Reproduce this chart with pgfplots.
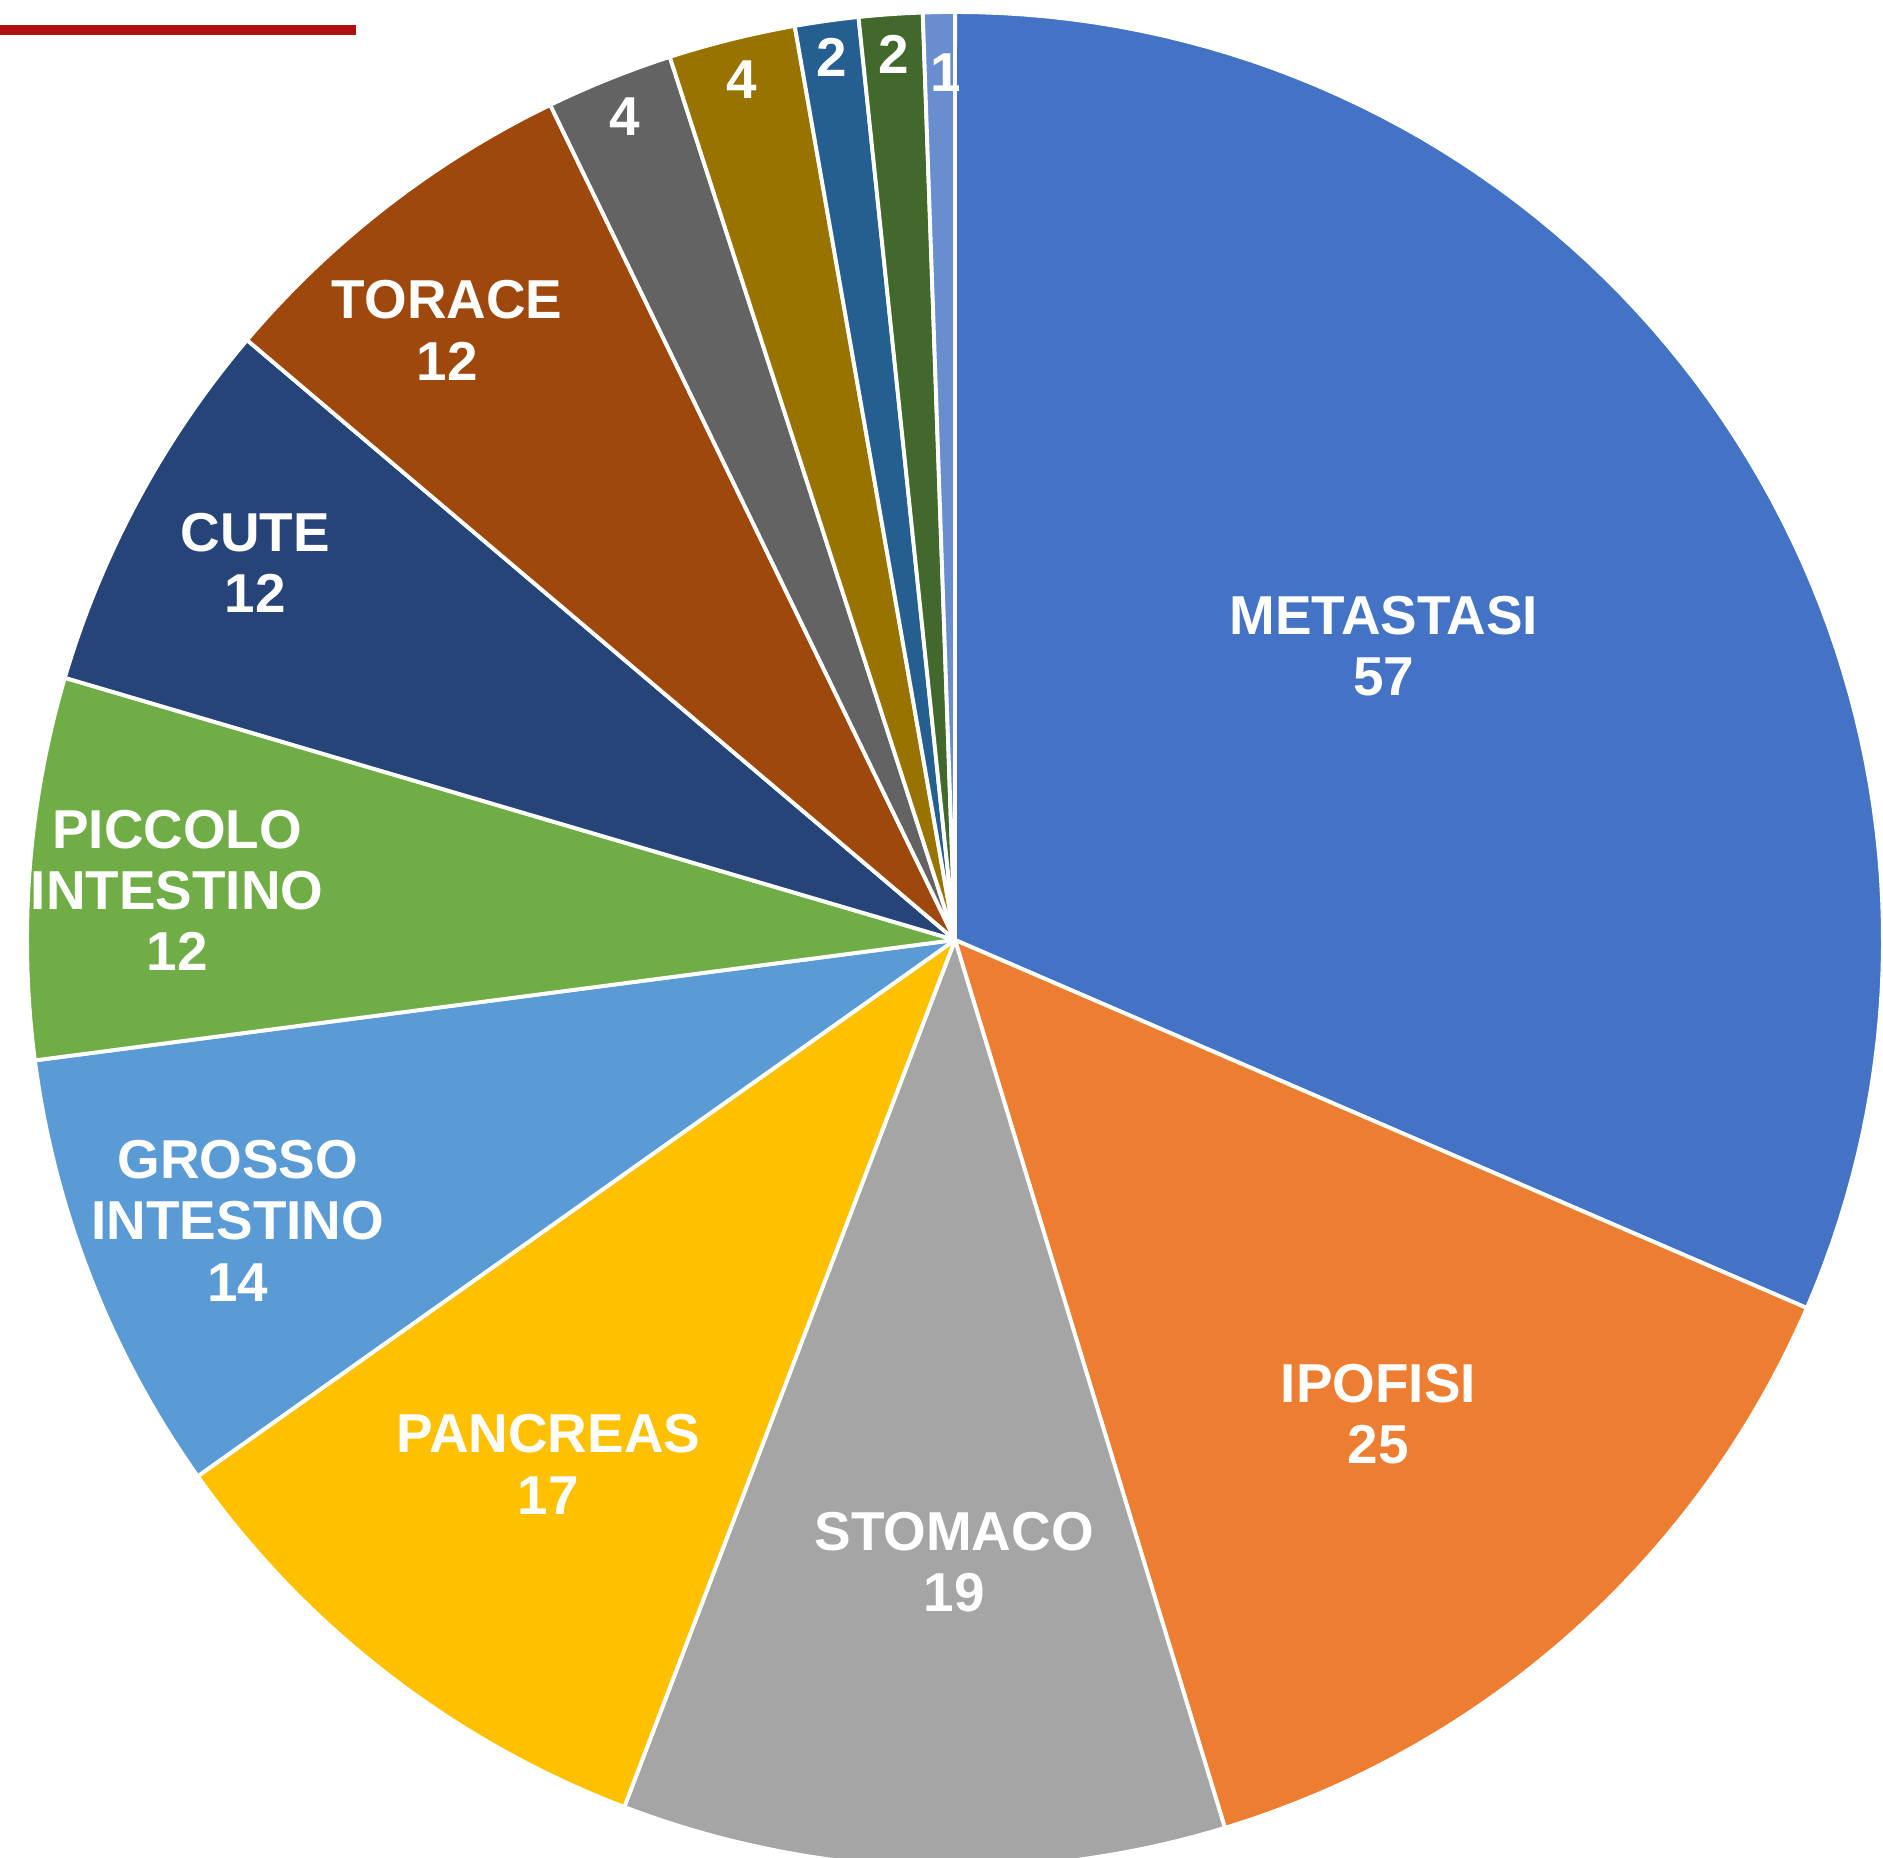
\documentclass[border=0pt]{standalone}
\usepackage{pgfplots}
\usepackage{pgfplotstable}
\pgfplotsset{compat=1.18}
\usepackage{fontspec}
\setmainfont{Liberation Sans}
\definecolor{c0}{HTML}{4472C4}
\definecolor{c1}{HTML}{ED7D31}
\definecolor{c2}{HTML}{A5A5A5}
\definecolor{c3}{HTML}{FFC000}
\definecolor{c4}{HTML}{5B9BD5}
\definecolor{c5}{HTML}{70AD47}
\definecolor{c6}{HTML}{264478}
\definecolor{c7}{HTML}{9E480E}
\definecolor{c8}{HTML}{636363}
\definecolor{c9}{HTML}{997300}
\definecolor{c10}{HTML}{255E91}
\definecolor{c11}{HTML}{43682B}
\definecolor{c12}{HTML}{698ED0}
\definecolor{topred}{HTML}{B11010}
% label: slice name, value: count, r: label radius, da: label angle shift
\pgfplotstableread[col sep=comma]{
label,value,r,da
METASTASI,57,0.56,1.1
IPOFISI,25,0.685,0
STOMACO,19,0.67,1.9
PANCREAS,17,0.715,0
GROSSO INTESTINO,14,0.83,0
PICCOLO INTESTINO,12,0.84,0.8
CUTE,12,0.857,0
TORACE,12,0.855,2.0
-,4,0.956,0
-,4,0.955,0
-,2,0.96,0
-,2,0.957,0
-,1,0.935,-0.4
}\piedata
\tikzset{pielabel/.style={text=white, align=center, text width=35mm,
  font=\fontsize{15.6}{17.4}\selectfont\bfseries, inner sep=0pt}}
\def\nolabel{-}
\begin{document}
\begin{tikzpicture}
\pgfplotstablegetrowsof{\piedata}
\pgfmathtruncatemacro\N{\pgfplotsretval-1}
\def\total{0}
\pgfplotsforeachungrouped \i in {0,...,\N}{%
  \pgfplotstablegetelem{\i}{value}\of\piedata
  \pgfmathsetmacro\total{\total+\pgfplotsretval}%
}
\begin{axis}[
  axis lines=none, ticks=none,
  x=92.8mm, y=92.8mm,
  xmin=-1.0291, xmax=1.0, ymin=-0.9892, ymax=1.0129,
  clip=true,
]
\addplot[topred, line width=1mm] coordinates {(-1.0291,0.9806) (-0.6452,0.9806)};
\def\cum{0}
\pgfplotsforeachungrouped \i in {0,...,\N}{%
  \pgfplotstablegetelem{\i}{value}\of\piedata
  \let\val\pgfplotsretval
  \pgfmathsetmacro\a{90-\cum/\total*360}%
  \pgfmathsetmacro\b{90-(\cum+\val)/\total*360}%
  \pgfmathsetmacro\cum{\cum+\val}%
  \edef\cmd{\noexpand\addplot[fill=c\i, draw=white, line width=1.1pt, line join=round, domain=\b:\a, samples=80] ({cos(x)},{sin(x)}) -- (0,0) -- cycle;}%
  \cmd
}
\def\cum{0}
\pgfplotsforeachungrouped \i in {0,...,\N}{%
  \pgfplotstablegetelem{\i}{value}\of\piedata
  \let\val\pgfplotsretval
  \pgfplotstablegetelem{\i}{label}\of\piedata
  \let\lab\pgfplotsretval
  \pgfplotstablegetelem{\i}{r}\of\piedata
  \let\rr\pgfplotsretval
  \pgfplotstablegetelem{\i}{da}\of\piedata
  \let\da\pgfplotsretval
  \pgfmathsetmacro\m{90-(\cum+\val/2)/\total*360+\da}%
  \pgfmathsetmacro\cum{\cum+\val}%
  \pgfmathsetmacro\lx{\rr*cos(\m)}%
  \pgfmathsetmacro\ly{\rr*sin(\m)}%
  \pgfmathtruncatemacro\vi{\val}%
  \ifx\lab\nolabel
    \edef\cmd{\noexpand\node[pielabel] at (axis cs:\lx,\ly) {\vi};}%
  \else
    \edef\cmd{\noexpand\node[pielabel] at (axis cs:\lx,\ly) {\lab\noexpand\\\vi};}%
  \fi
  \cmd
}
\end{axis}
\path (current axis.south west) rectangle (current axis.north east);
\end{tikzpicture}
\end{document}
